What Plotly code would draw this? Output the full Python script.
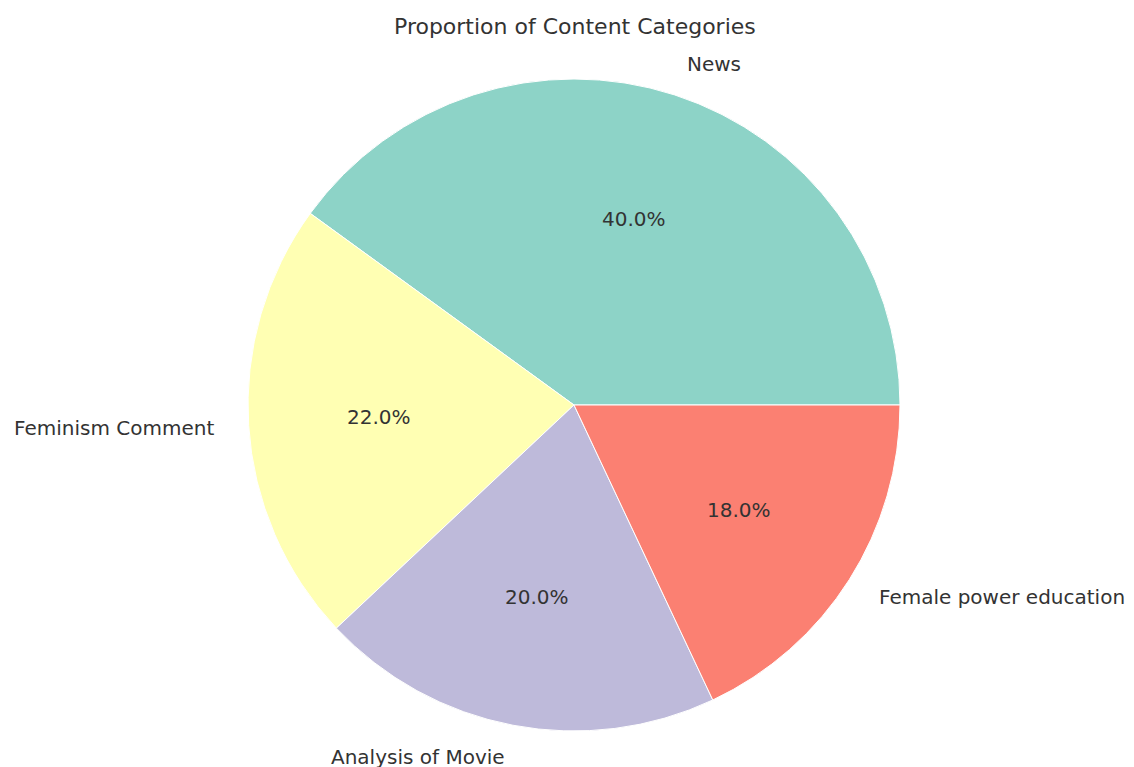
import math
import plotly.graph_objects as go

categories = ["News", "Feminism Comment", "Analysis of Movie", "Female power education"]
shares = [40.0, 22.0, 20.0, 18.0]
colors = ["#8dd3c7", "#ffffb3", "#bebada", "#fb8072"]

W, H = 1134, 767
CX, CY, R = 574, 405, 326  # pie center / radius in pixels
FONT = "DejaVu Sans"
TXT = "#333333"

total = sum(shares)
# plotly (counterclockwise) places the first slice's far edge at `rotation`;
# shift so the first slice starts at 3 o'clock like matplotlib's startangle=0
rotation = 90 - 360 * shares[0] / total

fig = go.Figure(go.Pie(
    labels=categories,
    values=shares,
    sort=False,
    direction="counterclockwise",
    rotation=rotation,
    marker=dict(colors=colors, line=dict(color="white", width=1)),
    textinfo="none",
    hoverinfo="label+percent",
    showlegend=False,
    domain=dict(x=[(CX - R) / W, (CX + R) / W], y=[1 - (CY + R) / H, 1 - (CY - R) / H]),
))

annotations = []
start = 0.0
for name, v in zip(categories, shares):
    mid = 2 * math.pi * (start + v / 2) / total
    start += v
    c, s = math.cos(mid), math.sin(mid)
    # percentage label at 0.6 R
    px, py = CX + 0.6 * R * c, CY - 0.6 * R * s
    annotations.append(dict(
        x=px / W, y=1 - py / H, xref="paper", yref="paper",
        text=f"{v / total * 100:.1f}%", showarrow=False,
        xanchor="center", yanchor="middle",
        font=dict(family=FONT, size=20, color=TXT),
    ))
    # category label at 1.1 R
    lx, ly = CX + 1.1 * R * c, CY - 1.1 * R * s
    annotations.append(dict(
        x=lx / W, y=1 - ly / H, xref="paper", yref="paper",
        text=name, showarrow=False,
        xanchor="left" if c > 0 else "right", yanchor="middle",
        font=dict(family=FONT, size=20, color=TXT),
    ))

annotations.append(dict(
    x=575 / W, y=1 - 27 / H, xref="paper", yref="paper",
    text="Proportion of Content Categories", showarrow=False,
    xanchor="center", yanchor="middle",
    font=dict(family=FONT, size=22, color=TXT),
))

fig.update_layout(
    width=W, height=H,
    margin=dict(l=0, r=0, t=0, b=0),
    paper_bgcolor="white", plot_bgcolor="white",
    annotations=annotations,
)

fig.write_html("out.html", config={"displayModeBar": False},
               post_script="document.body.style.margin='0';")
